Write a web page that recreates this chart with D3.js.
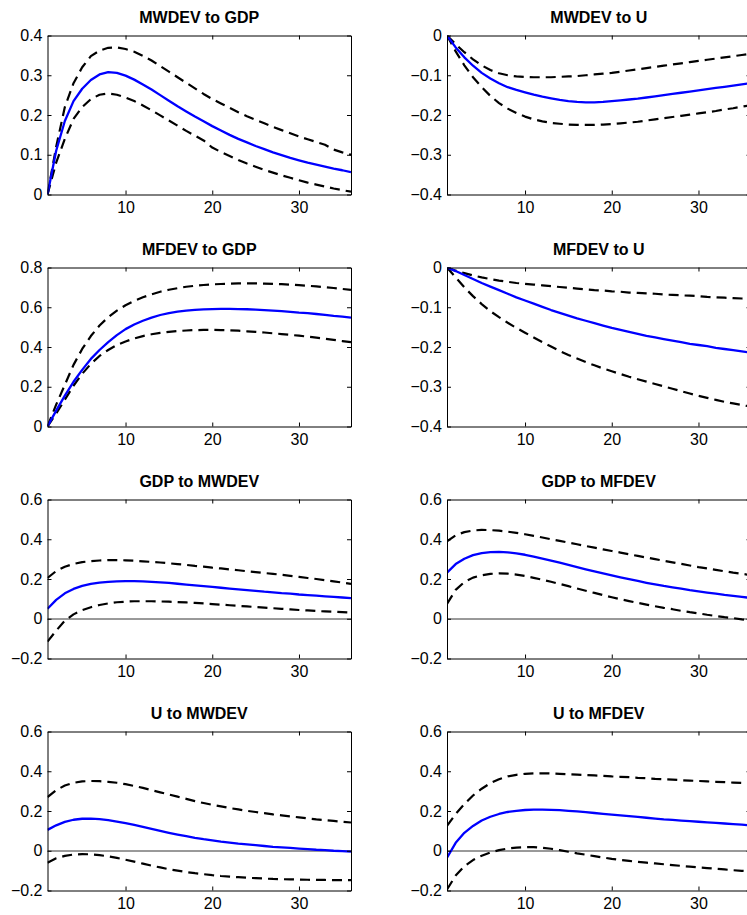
<!DOCTYPE html>
<html>
<head>
<meta charset="utf-8">
<script src="https://cdn.jsdelivr.net/npm/d3@7"></script>
<style>
  html, body { margin: 0; padding: 0; background: #fff; }
  svg { display: block; }
  text { font-family: "Liberation Sans", Arial, Helvetica, sans-serif; fill: #000; }
</style>
</head>
<body>
<svg id="chart" width="747" height="915"></svg>
<script>
// ---------- DATA ----------
const horizons = [1,2,3,4,5,6,7,8,9,10,11,12,13,14,15,16,17,18,19,20,21,22,23,24,25,26,27,28,29,30,31,32,33,34,35,36];
const xTickValues = [10, 20, 30];

const panelTitles = ["MWDEV to GDP", "MWDEV to U", "MFDEV to GDP", "MFDEV to U",
                     "GDP to MWDEV", "GDP to MFDEV", "U to MWDEV", "U to MFDEV"];

const yTicksA = [0, 0.1, 0.2, 0.3, 0.4];
const yTicksB = [-0.4, -0.3, -0.2, -0.1, 0];
const yTicksC = [0, 0.2, 0.4, 0.6, 0.8];
const yTicksD = [-0.2, 0, 0.2, 0.4, 0.6];

// 1. MWDEV to GDP
const mwdevGdpIrf   = [0,0.11,0.185,0.235,0.266,0.288,0.302,0.308,0.306,0.299,0.289,0.277,0.264,0.250,0.236,0.222,0.209,0.196,0.184,0.172,0.161,0.150,0.140,0.131,0.122,0.114,0.106,0.099,0.092,0.086,0.080,0.075,0.070,0.065,0.061,0.056];
const mwdevGdpUpper = [0,0.12,0.22,0.28,0.32,0.348,0.362,0.369,0.370,0.366,0.359,0.349,0.337,0.323,0.309,0.295,0.281,0.267,0.253,0.240,0.229,0.218,0.207,0.197,0.188,0.179,0.170,0.162,0.154,0.146,0.139,0.132,0.125,0.113,0.106,0.100];
const mwdevGdpLower = [0,0.08,0.14,0.19,0.22,0.24,0.251,0.254,0.251,0.244,0.235,0.224,0.212,0.199,0.186,0.173,0.160,0.148,0.136,0.118,0.107,0.097,0.087,0.078,0.070,0.062,0.055,0.048,0.042,0.036,0.030,0.025,0.020,0.015,0.011,0.007];

// 2. MWDEV to U
const mwdevUIrf   = [0,-0.030,-0.055,-0.076,-0.094,-0.108,-0.120,-0.130,-0.137,-0.143,-0.149,-0.154,-0.158,-0.162,-0.165,-0.167,-0.168,-0.168,-0.167,-0.165,-0.163,-0.161,-0.159,-0.156,-0.153,-0.150,-0.147,-0.144,-0.141,-0.138,-0.135,-0.132,-0.129,-0.126,-0.123,-0.120];
const mwdevUUpper = [0,-0.022,-0.042,-0.060,-0.075,-0.087,-0.095,-0.100,-0.103,-0.104,-0.105,-0.105,-0.105,-0.104,-0.103,-0.102,-0.100,-0.098,-0.096,-0.094,-0.091,-0.088,-0.085,-0.082,-0.079,-0.076,-0.073,-0.070,-0.067,-0.064,-0.061,-0.058,-0.055,-0.052,-0.049,-0.046];
const mwdevULower = [0,-0.040,-0.075,-0.105,-0.130,-0.152,-0.170,-0.184,-0.195,-0.204,-0.211,-0.216,-0.220,-0.222,-0.224,-0.225,-0.225,-0.225,-0.224,-0.223,-0.221,-0.219,-0.217,-0.214,-0.211,-0.208,-0.205,-0.202,-0.199,-0.196,-0.193,-0.190,-0.186,-0.183,-0.179,-0.176];

// 3. MFDEV to GDP
const mfdevGdpIrf   = [0,0.08,0.155,0.225,0.285,0.34,0.385,0.425,0.46,0.49,0.513,0.532,0.548,0.561,0.571,0.578,0.583,0.587,0.589,0.591,0.592,0.592,0.591,0.590,0.588,0.586,0.583,0.580,0.577,0.573,0.570,0.566,0.562,0.557,0.553,0.548];
const mfdevGdpUpper = [0,0.11,0.21,0.31,0.39,0.455,0.508,0.55,0.583,0.61,0.632,0.65,0.665,0.678,0.688,0.696,0.703,0.708,0.712,0.715,0.717,0.719,0.72,0.72,0.72,0.719,0.718,0.716,0.714,0.711,0.708,0.705,0.701,0.697,0.692,0.687];
const mfdevGdpLower = [0,0.065,0.135,0.205,0.265,0.315,0.355,0.385,0.41,0.428,0.443,0.455,0.464,0.471,0.476,0.480,0.483,0.485,0.486,0.486,0.485,0.484,0.482,0.479,0.476,0.473,0.469,0.465,0.461,0.457,0.452,0.447,0.442,0.436,0.430,0.424];

// 4. MFDEV to U
const mfdevUIrf   = [0,-0.009,-0.019,-0.029,-0.039,-0.048,-0.057,-0.066,-0.075,-0.083,-0.091,-0.099,-0.107,-0.114,-0.121,-0.128,-0.134,-0.140,-0.146,-0.152,-0.157,-0.162,-0.167,-0.172,-0.176,-0.180,-0.184,-0.188,-0.192,-0.195,-0.198,-0.202,-0.205,-0.208,-0.211,-0.214];
const mfdevUUpper = [0,-0.008,-0.014,-0.020,-0.025,-0.029,-0.033,-0.036,-0.039,-0.041,-0.043,-0.045,-0.047,-0.049,-0.051,-0.053,-0.055,-0.057,-0.058,-0.060,-0.061,-0.063,-0.064,-0.065,-0.066,-0.068,-0.069,-0.070,-0.071,-0.072,-0.074,-0.075,-0.076,-0.077,-0.078,-0.080];
const mfdevULower = [0,-0.025,-0.050,-0.072,-0.092,-0.110,-0.125,-0.139,-0.152,-0.164,-0.176,-0.188,-0.199,-0.210,-0.220,-0.229,-0.238,-0.246,-0.254,-0.261,-0.268,-0.275,-0.281,-0.287,-0.293,-0.299,-0.305,-0.311,-0.317,-0.323,-0.328,-0.333,-0.338,-0.342,-0.346,-0.350];

// 5. GDP to MWDEV
const gdpMwdevIrf   = [0.05,0.095,0.128,0.150,0.165,0.175,0.182,0.186,0.188,0.189,0.189,0.188,0.186,0.183,0.180,0.176,0.172,0.168,0.164,0.160,0.156,0.152,0.148,0.144,0.140,0.136,0.133,0.129,0.126,0.122,0.119,0.116,0.113,0.110,0.107,0.104];
const gdpMwdevUpper = [0.205,0.24,0.262,0.276,0.285,0.290,0.293,0.295,0.295,0.294,0.292,0.289,0.286,0.283,0.279,0.275,0.271,0.266,0.262,0.257,0.253,0.248,0.244,0.239,0.235,0.230,0.226,0.221,0.216,0.211,0.205,0.200,0.194,0.188,0.182,0.175];
const gdpMwdevLower = [-0.115,-0.06,-0.01,0.022,0.043,0.058,0.069,0.077,0.083,0.086,0.088,0.088,0.088,0.087,0.086,0.084,0.082,0.080,0.077,0.074,0.071,0.068,0.065,0.062,0.059,0.056,0.053,0.050,0.047,0.044,0.042,0.039,0.037,0.035,0.033,0.031];

// 6. GDP to MFDEV
const gdpMfdevIrf   = [0.232,0.275,0.302,0.320,0.330,0.335,0.336,0.334,0.329,0.322,0.313,0.303,0.293,0.282,0.271,0.260,0.249,0.238,0.228,0.218,0.208,0.199,0.190,0.181,0.173,0.165,0.158,0.151,0.144,0.138,0.132,0.126,0.120,0.115,0.110,0.105];
const gdpMfdevUpper = [0.39,0.42,0.436,0.444,0.447,0.446,0.443,0.438,0.432,0.425,0.417,0.409,0.400,0.392,0.383,0.375,0.366,0.358,0.349,0.341,0.333,0.324,0.316,0.308,0.300,0.292,0.284,0.276,0.268,0.260,0.253,0.246,0.239,0.232,0.226,0.220];
const gdpMfdevLower = [0.075,0.145,0.185,0.207,0.219,0.226,0.228,0.227,0.222,0.215,0.206,0.196,0.186,0.175,0.164,0.152,0.141,0.130,0.119,0.108,0.098,0.089,0.080,0.071,0.063,0.055,0.048,0.040,0.033,0.027,0.020,0.014,0.008,0.003,-0.003,-0.008];

// 7. U to MWDEV
const uMwdevIrf   = [0.105,0.128,0.145,0.156,0.161,0.162,0.159,0.154,0.147,0.139,0.130,0.120,0.110,0.100,0.090,0.081,0.073,0.065,0.058,0.052,0.046,0.041,0.036,0.032,0.028,0.024,0.020,0.017,0.014,0.011,0.008,0.005,0.003,0.000,-0.002,-0.004];
const uMwdevUpper = [0.27,0.305,0.328,0.342,0.349,0.351,0.350,0.347,0.342,0.335,0.326,0.316,0.305,0.294,0.283,0.272,0.261,0.250,0.240,0.231,0.223,0.215,0.208,0.201,0.195,0.189,0.183,0.178,0.173,0.168,0.163,0.158,0.154,0.150,0.146,0.142];
const uMwdevLower = [-0.06,-0.038,-0.026,-0.019,-0.017,-0.018,-0.022,-0.028,-0.036,-0.045,-0.055,-0.065,-0.075,-0.084,-0.093,-0.100,-0.107,-0.113,-0.118,-0.123,-0.127,-0.130,-0.133,-0.136,-0.138,-0.140,-0.142,-0.143,-0.144,-0.145,-0.146,-0.147,-0.147,-0.148,-0.148,-0.148];

// 8. U to MFDEV
const uMfdevIrf   = [-0.035,0.04,0.09,0.125,0.152,0.171,0.185,0.195,0.201,0.205,0.207,0.207,0.206,0.204,0.201,0.198,0.194,0.190,0.186,0.182,0.178,0.174,0.170,0.166,0.162,0.158,0.155,0.152,0.149,0.146,0.143,0.140,0.137,0.134,0.131,0.128];
const uMfdevUpper = [0.125,0.185,0.235,0.278,0.312,0.340,0.360,0.374,0.382,0.387,0.389,0.390,0.389,0.387,0.385,0.383,0.381,0.379,0.377,0.374,0.372,0.370,0.367,0.365,0.362,0.360,0.358,0.355,0.353,0.351,0.349,0.347,0.345,0.343,0.341,0.339];
const uMfdevLower = [-0.195,-0.125,-0.078,-0.047,-0.025,-0.009,0.003,0.011,0.016,0.018,0.018,0.015,0.010,0.003,-0.005,-0.013,-0.020,-0.027,-0.034,-0.041,-0.046,-0.051,-0.056,-0.060,-0.064,-0.068,-0.072,-0.076,-0.080,-0.084,-0.087,-0.091,-0.094,-0.098,-0.101,-0.104];

const panels = [
  { title: panelTitles[0], yTicks: yTicksA, irf: mwdevGdpIrf, upper: mwdevGdpUpper, lower: mwdevGdpLower },
  { title: panelTitles[1], yTicks: yTicksB, irf: mwdevUIrf,   upper: mwdevUUpper,   lower: mwdevULower },
  { title: panelTitles[2], yTicks: yTicksC, irf: mfdevGdpIrf, upper: mfdevGdpUpper, lower: mfdevGdpLower },
  { title: panelTitles[3], yTicks: yTicksB, irf: mfdevUIrf,   upper: mfdevUUpper,   lower: mfdevULower },
  { title: panelTitles[4], yTicks: yTicksD, irf: gdpMwdevIrf, upper: gdpMwdevUpper, lower: gdpMwdevLower },
  { title: panelTitles[5], yTicks: yTicksD, irf: gdpMfdevIrf, upper: gdpMfdevUpper, lower: gdpMfdevLower },
  { title: panelTitles[6], yTicks: yTicksD, irf: uMwdevIrf,   upper: uMwdevUpper,   lower: uMwdevLower },
  { title: panelTitles[7], yTicks: yTicksD, irf: uMfdevIrf,   upper: uMfdevUpper,   lower: uMfdevLower }
];

// ---------- LAYOUT ----------
const svg = d3.select("#chart");
const colLeft = [47.5, 447];
const plotW = 303.5;
const rowTop0 = 34.5, rowStep = 232.33, plotH = 159;
const fmt = d3.format("~g");

panels.forEach((p, i) => {
  const col = i % 2, row = Math.floor(i / 2);
  const x0 = colLeft[col], y0 = Math.round(rowTop0 + row * rowStep) + 0.5;
  const g = svg.append("g").attr("transform", `translate(${x0},${y0})`);

  const x = d3.scaleLinear().domain([1, 36]).range([0, plotW]);
  const yExt = d3.extent(p.yTicks);
  const y = d3.scaleLinear().domain(yExt).range([plotH, 0]);

  const clipId = "clip" + i;
  g.append("clipPath").attr("id", clipId)
    .append("rect").attr("x", 0).attr("y", 0).attr("width", plotW).attr("height", plotH);

  const plot = g.append("g").attr("clip-path", `url(#${clipId})`);

  if (yExt[0] < 0 && yExt[1] > 0) {
    plot.append("line")
      .attr("x1", 0).attr("x2", plotW)
      .attr("y1", Math.round(y(0)) + 0.5).attr("y2", Math.round(y(0)) + 0.5)
      .attr("stroke", "#000").attr("stroke-width", 0.8);
  }

  const line = d3.line().x((d, k) => x(horizons[k])).y(d => y(d));

  [p.upper, p.lower].forEach(arr => {
    plot.append("path").datum(arr)
      .attr("d", line)
      .attr("fill", "none").attr("stroke", "#000")
      .attr("stroke-width", 2.2).attr("stroke-dasharray", "10,6")
      .attr("stroke-linejoin", "round");
  });
  plot.append("path").datum(p.irf)
    .attr("d", line)
    .attr("fill", "none").attr("stroke", "#0000ff")
    .attr("stroke-width", 2.3).attr("stroke-linejoin", "round");

  // axes (ticks inside, box)
  const axL = g.append("g").call(d3.axisLeft(y).tickValues(p.yTicks).tickFormat(fmt)
    .tickSizeInner(-4).tickSizeOuter(0).tickPadding(5));
  const axB = g.append("g").attr("transform", `translate(0,${plotH})`)
    .call(d3.axisBottom(x).tickValues(xTickValues).tickFormat(fmt)
    .tickSizeInner(-4).tickSizeOuter(0).tickPadding(7));
  const axR = g.append("g").attr("transform", `translate(${plotW},0)`)
    .call(d3.axisRight(y).tickValues(p.yTicks).tickFormat("")
    .tickSizeInner(-4).tickSizeOuter(0));
  const axT = g.append("g")
    .call(d3.axisTop(x).tickValues(xTickValues).tickFormat("")
    .tickSizeInner(-4).tickSizeOuter(0));
  [axL, axB, axR, axT].forEach(a => {
    a.selectAll("path.domain").attr("stroke", "#000").attr("stroke-width", 1);
    a.selectAll(".tick line").attr("stroke", "#000").attr("stroke-width", 1);
    a.selectAll("text").attr("font-size", "16px")
      .attr("font-family", "'Liberation Sans', Arial, sans-serif").attr("fill", "#000");
  });

  g.append("text")
    .attr("x", plotW / 2).attr("y", -13)
    .attr("text-anchor", "middle")
    .attr("font-size", "16px").attr("font-weight", "bold")
    .text(p.title);
});
</script>
</body>
</html>
